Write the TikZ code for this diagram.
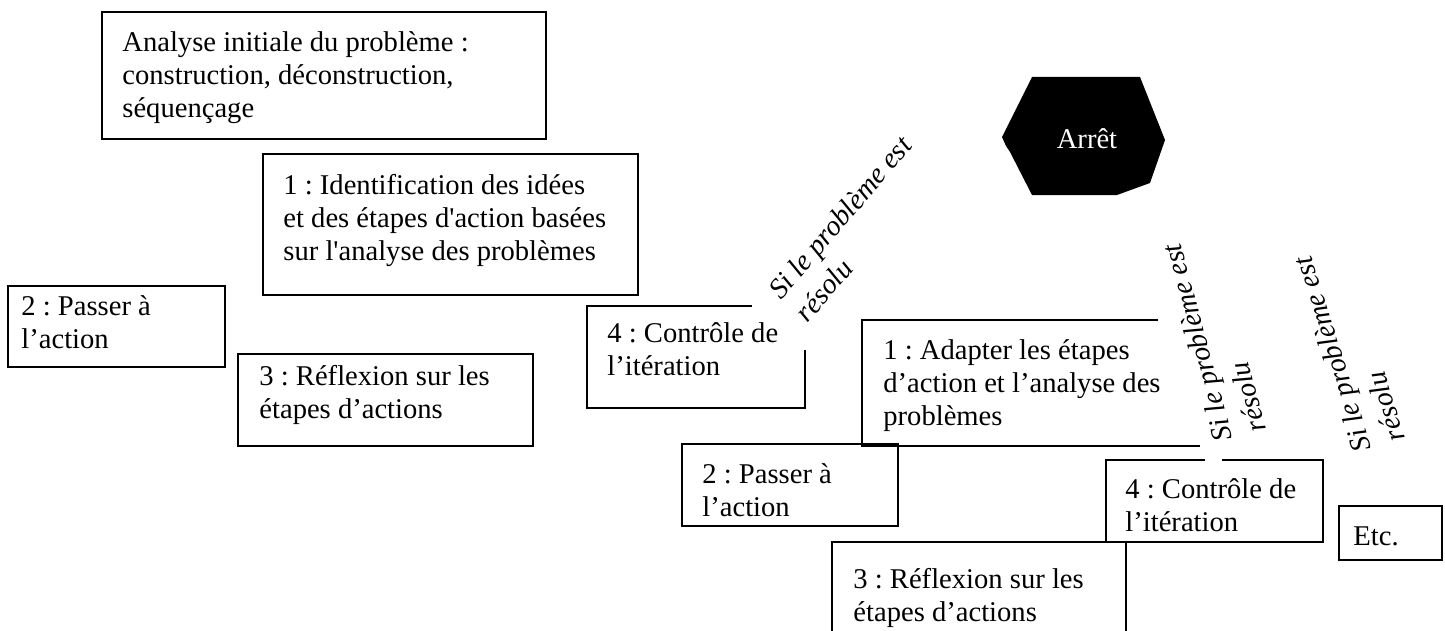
\documentclass[tikz,border=0pt]{standalone}
\usepackage{fontspec}
\setmainfont{Liberation Serif}
\newfontfamily\plainserif{Liberation Serif}
\newcommand{\sq}{{\plainserif'}}
\frenchspacing
\begin{document}
\begin{tikzpicture}[x=0.5pt,y=-0.5pt,
  box/.style={draw, line width=0.7pt, inner sep=0pt, outer sep=0pt, anchor=north west},
  frame/.style={inner sep=0pt, outer sep=0pt, anchor=north west},
  border/.style={line width=0.7pt},
  txt/.style={inner sep=0pt, anchor=base west, font=\fontsize{14.3}{16.5}\selectfont},
  lbl/.style={inner sep=0pt, anchor=base west, font=\fontsize{14.3}{17.5}\selectfont\itshape}]
\useasboundingbox (0,0) rectangle (1445,631);
% full boxes
\node[box, minimum width=222pt, minimum height=63.5pt] (A) at (102,12) {};
\node[box, minimum width=187.5pt, minimum height=70.5pt] (B) at (263,154) {};
\node[box, minimum width=108.5pt, minimum height=40.5pt] (C) at (8,286) {};
\node[box, minimum width=147.5pt, minimum height=46pt] (D) at (238,354) {};
\node[box, minimum width=108pt, minimum height=41pt] (G) at (682,444) {};
\node[box, minimum width=51.5pt, minimum height=27pt] (J) at (1339,506) {};
% partially hidden boxes
\node[frame, minimum width=109pt, minimum height=51pt] (E) at (587,306) {};
\node[frame, minimum width=169pt, minimum height=63pt] (F) at (862,320) {};
\node[frame, minimum width=108.5pt, minimum height=41pt] (H) at (1106,460) {};
\node[frame, minimum width=147pt, minimum height=59pt] (I) at (832,542) {};
\draw[border] (752,306) -- (E.north west) -- (E.south west) -- (E.south east) -- (805,350);
\draw[border] (1158,320) -- (F.north west) -- (F.south west) -- (F.south east);
\draw[border] (1205,460) -- (H.north west) -- (H.south west) -- (H.south east) -- (H.north east) -- (1222,460);
\draw[border] (I.south west) -- (I.north west) -- (I.north east) -- (I.south east);
% texts
\node[txt] (tA) at (122,52) {\begin{tabular}[t]{@{}l@{}}Analyse initiale du problème :\\construction, déconstruction,\\séquençage\end{tabular}};
\node[txt] (tB) at (283,194) {\begin{tabular}[t]{@{}l@{}}1 : Identification des idées\\et des étapes d\sq action basées\\sur l\sq analyse des problèmes\end{tabular}};
\node[txt] (tC) at (21,315) {\begin{tabular}[t]{@{}l@{}}2 : Passer à\\l’action\end{tabular}};
\node[txt] (tD) at (259,385) {\begin{tabular}[t]{@{}l@{}}3 : Réflexion sur les\\étapes d’actions\end{tabular}};
\node[txt] (tE) at (607,342) {\begin{tabular}[t]{@{}l@{}}4 : Contrôle de\\l’itération\end{tabular}};
\node[txt] (tF) at (883,359) {\begin{tabular}[t]{@{}l@{}}1 : Adapter les étapes\\d’action et l’analyse des\\problèmes\end{tabular}};
\node[txt] (tG) at (702,483) {\begin{tabular}[t]{@{}l@{}}2 : Passer à\\l’action\end{tabular}};
\node[txt] (tH) at (1125,498) {\begin{tabular}[t]{@{}l@{}}4 : Contrôle de\\l’itération\end{tabular}};
\node[txt] (tI) at (853,588) {\begin{tabular}[t]{@{}l@{}}3 : Réflexion sur les\\étapes d’actions\end{tabular}};
\node[txt] (tJ) at (1353,545) {Etc.};
% stop hexagon
\fill (1002,137) -- (1032,77) -- (1140,77) -- (1165,140) -- (1150,183) -- (1117,195) -- (1032,195) -- (1010,152) -- (1006,146) -- cycle;
\node[inner sep=0pt, text=white, font=\fontsize{14.3}{16.5}\selectfont] (arret) at (1087,139) {Arrêt};
% rotated labels
\node[lbl, rotate=49.4] (L1) at (781,301) {\begin{tabular}[t]{@{}l@{}}Si le problème est\\résolu\end{tabular}};
\node[lbl, rotate=105] (L2) at (1233,439) {\begin{tabular}[t]{@{}l@{}}Si le problème est\\résolu\end{tabular}};
\node[lbl, rotate=107.5] (L3) at (1372,449) {\begin{tabular}[t]{@{}l@{}}Si le problème est\\résolu\end{tabular}};
\end{tikzpicture}
\end{document}
